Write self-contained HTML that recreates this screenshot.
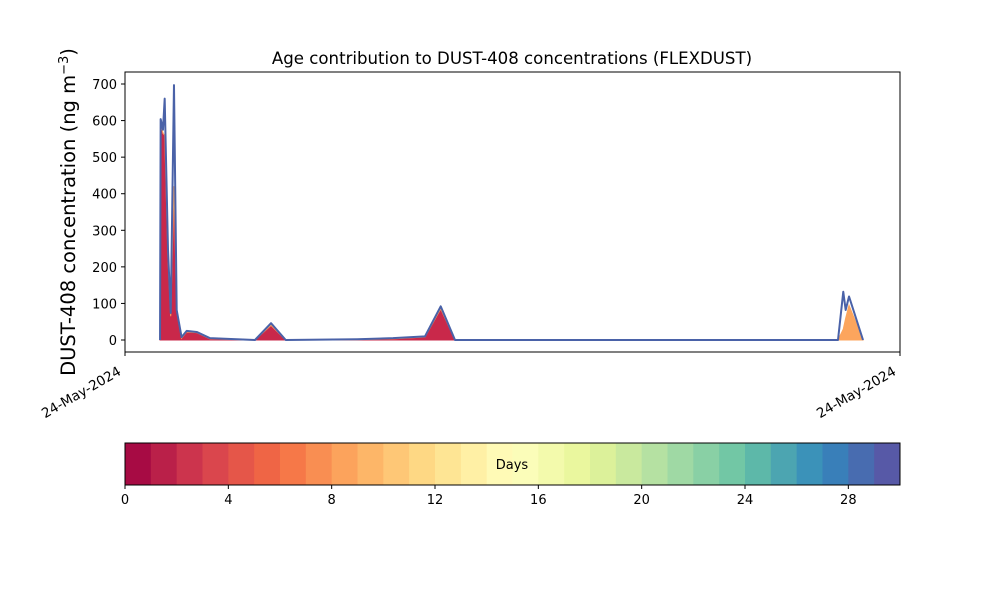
<!DOCTYPE html>
<html><head><meta charset="utf-8"><style>body{margin:0;background:#fff}svg{font-family:"DejaVu Sans","Liberation Sans",sans-serif}</style></head>
<body>
<svg id="c" width="1000" height="600" viewBox="0 0 1000 600"></svg>
<script>
const times=[4.52,4.6,4.9,5.12,5.55,5.9,6.32,6.67,7.3,7.96,9.25,10.97,16.77,18.84,20.74,29.94,34.58,38.71,40.74,42.58,92.0,92.68,92.99,93.42,95.23];
const totalValues=[0,604,575,660,246,74,697,82,8,25,22,5,0,46,0,2,5,10,92,0,0,132,82,119,0];
const age1Values=[0,595,565,560,220,65,420,78,5,22,20,3,0,40,0,1,3,8,85,0,0,0,0,0,0];
const age9Values=[0,0,0,0,0,0,0,0,0,0,0,0,0,0,0,0,0,0,0,0,0,30,60,95,0];
const yTicks=[0,100,200,300,400,500,600,700];
const cbTicks=[0,4,8,12,16,20,24,28];
const NS='http://www.w3.org/2000/svg';
const svg=document.getElementById('c');
function el(t,a,p){const e=document.createElementNS(NS,t);for(const k in a)e.setAttribute(k,a[k]);(p||svg).appendChild(e);return e;}
const X0=125,X1=900,Y0=72,Y1=352;
const xs=v=>X0+v*(X1-X0)/100;
const ys=v=>340-v*0.3657;
function area(vals,base,color,name){let d='M'+xs(times[0])+','+ys(base[0]);times.forEach((t,i)=>d+='L'+xs(t)+','+ys(base[i]+vals[i]));for(let i=times.length-1;i>=0;i--)d+='L'+xs(times[i])+','+ys(base[i]);
const p=el('path',{d:d+'Z',fill:color,stroke:color,'stroke-width':1});

}
const zeros=times.map(()=>0);
area(age1Values,zeros,'#c9284a','age-1-day-area');
area(age9Values,age1Values,'#fca55d','age-9-day-area');
let ld='';times.forEach((t,i)=>ld+=(i?'L':'M')+xs(t)+','+ys(totalValues[i]));
const ln=el('path',{d:ld,fill:'none',stroke:'#4a62a8','stroke-width':2,'stroke-linejoin':'round'});


const fr=el('rect',{x:X0,y:Y0,width:X1-X0,height:Y1-Y0,fill:'none',stroke:'#000','stroke-width':1});


yTicks.forEach(v=>{const y=ys(v);el('line',{x1:X0-4,x2:X0,y1:y,y2:y,stroke:'#000'});
const t=el('text',{x:X0-8,y:y+5,'text-anchor':'end','font-size':13});t.textContent=v;

});
[X0,X1].forEach(x=>{el('line',{x1:x,x2:x,y1:Y1,y2:Y1+4,stroke:'#000'});
const t=el('text',{x:x-3,y:Y1+22,'text-anchor':'end','font-size':13.5,transform:`rotate(-30 ${x-3} ${Y1+22})`});t.textContent='24-May-2024';

});
const ti=el('text',{x:512,y:64,'text-anchor':'middle','font-size':16.6});ti.textContent='Age contribution to DUST-408 concentrations (FLEXDUST)';


const yl=el('text',{x:0,y:0,'text-anchor':'middle','font-size':19.5,transform:'translate(75,212) rotate(-90)'});
yl.innerHTML='DUST-408 concentration (ng m<tspan dy="-7" font-size="13">−3</tspan><tspan dy="7">)</tspan>';


const stops=['#9e0142','#d53e4f','#f46d43','#fdae61','#fee08b','#ffffbf','#e6f598','#abdda4','#66c2a5','#3288bd','#5e4fa2'];
function h2r(h){return [1,3,5].map(i=>parseInt(h.substr(i,2),16));}
function spec(f){const p=f*10,i=Math.min(9,Math.floor(p)),r=p-i,a=h2r(stops[i]),b=h2r(stops[i+1]);return 'rgb('+a.map((v,k)=>Math.round(v+(b[k]-v)*r)).join(',')+')';}
const CY=443,CH=42,cw=(X1-X0)/30;
for(let i=0;i<30;i++){const r=el('rect',{x:X0+i*cw,y:CY,width:cw+0.5,height:CH,fill:spec((i+0.5)/30)});

}
const cb=el('rect',{x:X0,y:CY,width:X1-X0,height:CH,fill:'none',stroke:'#000'});


cbTicks.forEach(v=>{const x=X0+v*cw;el('line',{x1:x,x2:x,y1:CY+CH,y2:CY+CH+4,stroke:'#000'});
const t=el('text',{x:x,y:CY+CH+19,'text-anchor':'middle','font-size':13});t.textContent=v;

});
const dl=el('text',{x:512,y:469,'text-anchor':'middle','font-size':13});dl.textContent='Days';


</script>
</body></html>
